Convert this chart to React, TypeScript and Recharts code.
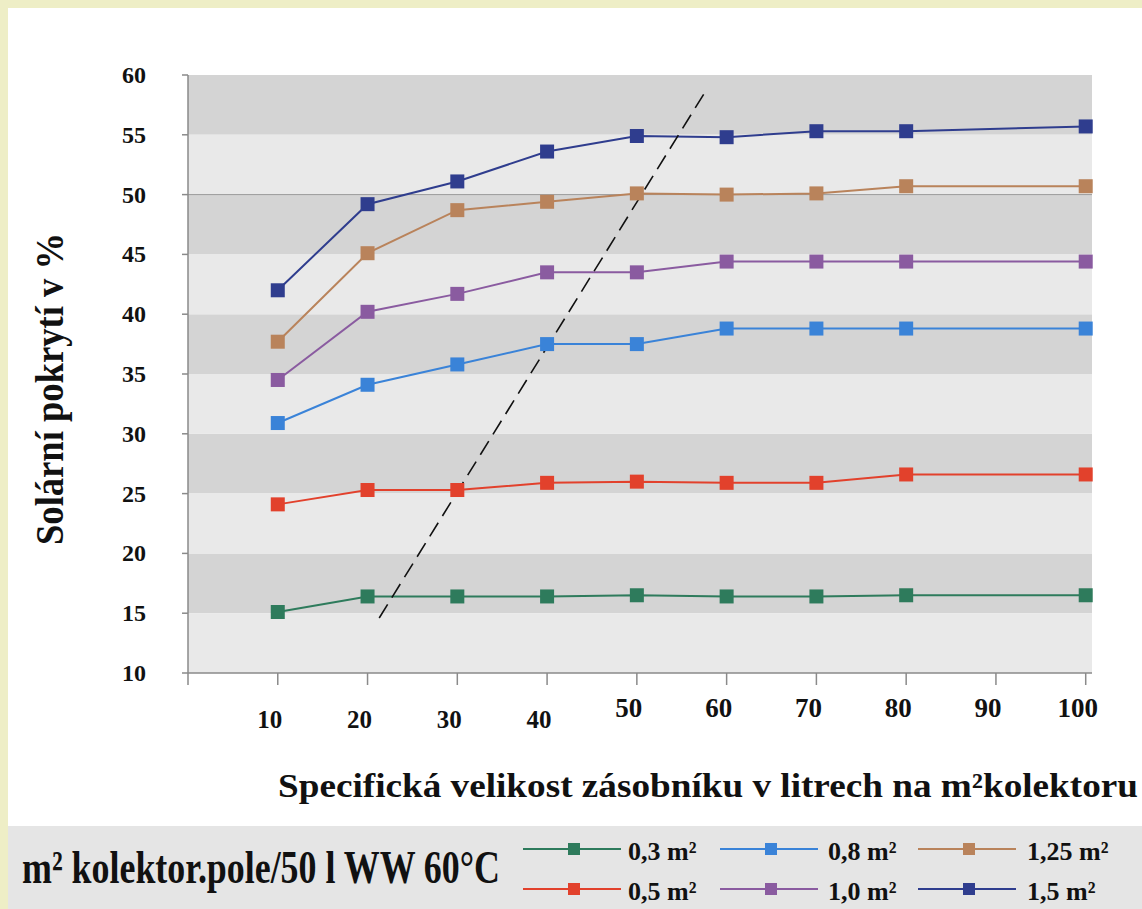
import React from 'react';
import { LineChart, Line, XAxis, YAxis, ReferenceArea, ReferenceLine } from 'recharts';

const xValues = [10, 20, 30, 40, 50, 60, 70, 80, 100];
const xTicks = [0, 10, 20, 30, 40, 50, 60, 70, 80, 90, 100];
const yTicks = [10, 15, 20, 25, 30, 35, 40, 45, 50, 55, 60];

const s03 = [15.1, 16.4, 16.4, 16.4, 16.5, 16.4, 16.4, 16.5, 16.5];
const s05 = [24.1, 25.3, 25.3, 25.9, 26.0, 25.9, 25.9, 26.6, 26.6];
const s08 = [30.9, 34.1, 35.8, 37.5, 37.5, 38.8, 38.8, 38.8, 38.8];
const s10 = [34.5, 40.2, 41.7, 43.5, 43.5, 44.4, 44.4, 44.4, 44.4];
const s125 = [37.7, 45.1, 48.7, 49.4, 50.1, 50.0, 50.1, 50.7, 50.7];
const s15 = [42.0, 49.2, 51.1, 53.6, 54.9, 54.8, 55.3, 55.3, 55.7];

const seriesNames = ['0,3 m²', '0,5 m²', '0,8 m²', '1,0 m²', '1,25 m²', '1,5 m²'];
const seriesKeys = ['s03', 's05', 's08', 's10', 's125', 's15'];
const seriesValues = [s03, s05, s08, s10, s125, s15];
const seriesColors = ['#2e7b5c', '#e2412c', '#3a83d8', '#8a5ba0', '#b9835b', '#2f3d8e'];

const darkBands = [[15, 20], [25, 30], [35, 40], [45, 50], [55, 60]];
const lightBands = [[10, 15], [20, 25], [30, 35], [40, 45], [50, 55]];

const dashedSegment = [{ x: 21.3, y: 14.6 }, { x: 57.7, y: 58.7 }];

const yTitle = 'Solární pokrytí v %';
const xTitle = 'Specifická velikost zásobníku v litrech na m²kolektoru';
const legendTitle = 'm² kolektor.pole/50 l WW 60°C';

const data = xValues.map((x, i) => {
  const row: any = { x };
  seriesKeys.forEach((k, j) => { row[k] = seriesValues[j][i]; });
  return row;
});

const FONT = "'Liberation Serif', 'Times New Roman', serif";

const SquareDot = (props: any) => {
  const { cx, cy, fill } = props;
  if (cx == null || cy == null) return null;
  return <rect x={cx - 7} y={cy - 7} width={14} height={14} fill={fill} />;
};

const XTick = (props: any) => {
  const { x, y, payload } = props;
  if (payload.value === 0) return null;
  const low = payload.value <= 40;
  return (
    <text x={x - 8} y={y + (low ? 41 : 30)} textAnchor="middle" fontFamily={FONT} fontWeight="bold" fontSize={low ? 25 : 27} fill="#111">
      {payload.value}
    </text>
  );
};

const YTick = (props: any) => {
  const { x, y, payload } = props;
  return (
    <text x={x - 34} y={y + 8} textAnchor="end" fontFamily={FONT} fontWeight="bold" fontSize={24} fill="#111">
      {payload.value}
    </text>
  );
};

const legendOrder = [[0, 2, 4], [1, 3, 5]];
const colLineX = [523, 720, 918];
const colTextX = [628, 828, 1027];
const rowLineY = [849, 889];

export default function App() {
  return (
    <div style={{ position: 'absolute', left: 0, top: 0, width: 1142, height: 909, background: '#eeeec6', overflow: 'hidden' }}>
      <div style={{ position: 'absolute', left: 8, top: 8, width: 1134, height: 818, background: '#ffffff' }} />
      <div style={{ position: 'absolute', left: 8, top: 826, width: 1134, height: 83, background: '#e5e5e5' }} />
      <div style={{ position: 'absolute', left: 0, top: 0 }}>
        <LineChart width={1142} height={826} data={data} margin={{ top: 75, right: 50, bottom: 93, left: 108 }}>
          {darkBands.map((b, i) => (
            <ReferenceArea key={'d' + i} y1={b[0]} y2={b[1]} fill="#d4d4d4" fillOpacity={1} stroke="none" ifOverflow="visible" />
          ))}
          {lightBands.map((b, i) => (
            <ReferenceArea key={'l' + i} y1={b[0]} y2={b[1]} fill="#e9e9e9" fillOpacity={1} stroke="none" ifOverflow="visible" />
          ))}
          <ReferenceLine y={50} stroke="#9a9a9a" strokeWidth={1} />
          <XAxis
            dataKey="x"
            type="number"
            domain={[0, 100.7]}
            ticks={xTicks}
            interval={0}
            height={60}
            axisLine={{ stroke: '#8a8a8a', strokeWidth: 1.5 }}
            tickLine={{ stroke: '#8a8a8a', strokeWidth: 1.5 }}
            tickSize={12}
            tick={<XTick />}
          />
          <YAxis
            type="number"
            domain={[10, 60]}
            ticks={yTicks}
            interval={0}
            width={80}
            axisLine={{ stroke: '#8a8a8a', strokeWidth: 1.5 }}
            tickLine={{ stroke: '#8a8a8a', strokeWidth: 1.5 }}
            tickSize={6}
            tick={<YTick />}
          />
          {seriesKeys.map((k, j) => (
            <Line
              key={k}
              dataKey={k}
              name={seriesNames[j]}
              stroke={seriesColors[j]}
              strokeWidth={2}
              dot={<SquareDot fill={seriesColors[j]} />}
              activeDot={false}
              isAnimationActive={false}
            />
          ))}
          <ReferenceLine segment={dashedSegment} stroke="#111" strokeWidth={1.6} strokeDasharray="16 8" ifOverflow="visible" />
        </LineChart>
      </div>
      <svg width={1142} height={909} style={{ position: 'absolute', left: 0, top: 0, pointerEvents: 'none' }}>
        <text transform="translate(63,389) rotate(-90)" textAnchor="middle" fontFamily={FONT} fontWeight="bold" fontSize={40} fill="#111" textLength={312} lengthAdjust="spacingAndGlyphs">
          {yTitle}
        </text>
        <text x={278} y={797} fontFamily={FONT} fontWeight="bold" fontSize={33} fill="#111" textLength={860} lengthAdjust="spacingAndGlyphs">
          {xTitle}
        </text>
        <text x={22} y={883} fontFamily={FONT} fontWeight="bold" fontSize={46} fill="#111" textLength={478} lengthAdjust="spacingAndGlyphs">
          {legendTitle}
        </text>
        {legendOrder.map((row, r) =>
          row.map((si, c) => (
            <g key={si}>
              <line x1={colLineX[c]} y1={rowLineY[r]} x2={colLineX[c] + 98} y2={rowLineY[r]} stroke={seriesColors[si]} strokeWidth={2} />
              <rect x={colLineX[c] + 45} y={rowLineY[r] - 6} width={12} height={12} fill={seriesColors[si]} />
              <text x={colTextX[c]} y={rowLineY[r] + 11} fontFamily={FONT} fontWeight="bold" fontSize={26} fill="#111">
                {seriesNames[si]}
              </text>
            </g>
          ))
        )}
      </svg>
    </div>
  );
}
